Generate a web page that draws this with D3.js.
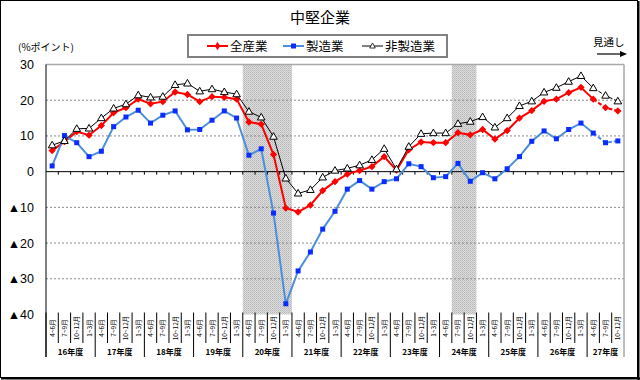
<!DOCTYPE html>
<html><head><meta charset="utf-8">
<script src="https://cdn.jsdelivr.net/npm/d3@7"></script>
<style>
html,body{margin:0;padding:0;background:#fff;}
text{font-family:"Liberation Sans","Noto Sans CJK JP",sans-serif;}
.jp{font-family:"Noto Sans CJK JP","Liberation Sans",sans-serif;}
</style></head>
<body>
<svg id="c" width="640" height="380"></svg>
<script>
const title = "中堅企業";
const fiscalYears = ["16年度","17年度","18年度","19年度","20年度","21年度","22年度","23年度","24年度","25年度","26年度","27年度"];
const quarters = ["4~6月","7~9月","10~12月","1~3月"];
const lastYearQuarters = 3;
const seriesNames = ["全産業","製造業","非製造業"];
const allIndustries = [5.9,8.4,11.2,10.2,12.9,16.5,17.9,20.3,19.0,19.6,22.3,21.6,19.6,21.0,20.8,20.3,13.9,13.3,4.8,-10.2,-11.3,-9.4,-5.3,-2.8,-0.7,0.3,1.4,4.2,0.4,6.1,8.3,8.1,8.1,10.9,10.3,11.8,9.1,11.5,15.0,17.1,19.7,20.3,22.1,23.6,20.3,17.9,17.0];
const manufacturing = [1.6,10.1,8.1,4.2,5.7,12.6,15.3,17.2,13.6,15.8,17.0,11.7,11.8,14.4,17.0,15.0,4.6,6.4,-11.6,-37.0,-27.8,-22.5,-16.1,-11.1,-4.9,-2.5,-4.9,-2.8,-2.0,2.2,1.4,-1.7,-1.4,2.3,-2.7,-0.3,-2.0,0.8,4.2,8.5,11.4,9.2,11.8,13.6,10.8,8.1,8.6];
const nonManufacturing = [7.4,8.6,12.0,12.1,15.0,17.7,18.9,21.4,20.8,21.0,24.3,24.7,22.5,23.1,22.3,21.7,16.8,15.2,9.8,-1.9,-6.1,-5.1,-1.6,0.3,0.9,1.8,3.3,6.4,0.7,7.0,10.6,10.8,10.8,13.4,14.0,15.3,12.4,15.0,18.4,19.7,22.2,23.5,25.2,26.8,23.4,21.3,19.7];
const forecastFrom = "27年度 4~6月";
const shadedPeriods = [["20年度 4~6月","20年度 1~3月"],["24年度 7~9月","24年度 10~12月"]];
const yTicks = [30,20,10,0,-10,-20,-30,-40];

// build categories
const categories = [];
fiscalYears.forEach((fy,yi)=>{
  const n = yi===fiscalYears.length-1 ? lastYearQuarters : 4;
  for(let q=0;q<n;q++) categories.push({key: fy+" "+quarters[q], fy, q: quarters[q]});
});
const keys = categories.map(d=>d.key);

const svg = d3.select("#c");
const L=46,R=624,T=64.5,B=314.5;
const x = d3.scaleBand().domain(keys).range([L,R]).padding(0);
const y = d3.scaleLinear().domain([-40,30]).range([B,T]);
const cx = k => x(k)+x.bandwidth()/2;

// frame
svg.append("rect").attr("x",0.5).attr("y",0.5).attr("width",637).attr("height",377).attr("fill","#fff").attr("stroke","#000");
svg.append("line").attr("x1",638.5).attr("x2",638.5).attr("y1",1).attr("y2",380).attr("stroke","#000").attr("stroke-width",2);
svg.append("line").attr("x1",1).attr("x2",640).attr("y1",378.5).attr("y2",378.5).attr("stroke","#000").attr("stroke-width",2);

// pattern
const defs = svg.append("defs");
const pat = defs.append("pattern").attr("id","dots").attr("width",2).attr("height",2).attr("patternUnits","userSpaceOnUse");
pat.append("rect").attr("width",2).attr("height",2).attr("fill","#dedede");
pat.append("rect").attr("width",1).attr("height",1).attr("fill","#b4b4b4");
pat.append("rect").attr("x",1).attr("y",1).attr("width",1).attr("height",1).attr("fill","#c4c4c4");

// shaded
svg.selectAll("rect.shade").data(shadedPeriods).enter().append("rect")
  .attr("x",d=>x(d[0])).attr("y",T).attr("width",d=>x(d[1])+x.bandwidth()-x(d[0])).attr("height",B-T)
  .attr("fill","url(#dots)");

// gridlines
svg.selectAll("line.grid").data(yTicks.filter(v=>v!==0 && v!==30 && v!==-40)).enter().append("line")
  .attr("x1",L).attr("x2",R).attr("y1",d=>y(d)).attr("y2",d=>y(d))
  .attr("stroke","#8a8a8a").attr("stroke-width",1).attr("stroke-dasharray","2,2");
// top & right border
svg.append("line").attr("x1",L).attr("x2",R).attr("y1",y(30)).attr("y2",y(30)).attr("stroke","#a8a8a8").attr("stroke-width",1.5);
svg.append("line").attr("x1",R).attr("x2",R).attr("y1",T).attr("y2",357).attr("stroke","#a8a8a8").attr("stroke-width",1.5);
// zero line
svg.append("line").attr("x1",L).attr("x2",R).attr("y1",y(0)).attr("y2",y(0)).attr("stroke","#000").attr("stroke-width",1);
svg.selectAll("line.zt").data(keys.slice(1)).enter().append("line")
  .attr("x1",d=>x(d)).attr("x2",d=>x(d)).attr("y1",y(0)).attr("y2",y(0)+3).attr("stroke","#000");

// y axis
const yAxis = d3.axisLeft(y).tickValues(yTicks).tickSize(0).tickPadding(12)
  .tickFormat(v=> v<0 ? "▲"+(-v) : String(v));
const ga = svg.append("g").attr("transform",`translate(${L},0)`).call(yAxis);
ga.select(".domain").remove();
ga.selectAll("text").attr("font-size",12.5).attr("fill","#000").attr("font-family","'Liberation Sans',sans-serif");
svg.append("line").attr("x1",L).attr("x2",L).attr("y1",T).attr("y2",357).attr("stroke","#000");

// x axis separators
svg.selectAll("line.qsep").data(categories).enter().append("line")
  .attr("x1",d=>x(d.key)).attr("x2",d=>x(d.key))
  .attr("y1",B-2).attr("y2",d=> d.q===quarters[0] ? 357 : 343)
  .attr("stroke","#000").attr("stroke-width",1);
svg.selectAll("text.ql").data(categories).enter().append("text")
  .attr("class","jp")
  .attr("transform",d=>`translate(${cx(d.key)+2.5},${328}) rotate(-90)`)
  .attr("text-anchor","middle").attr("font-size",6.5).text(d=>d.q);
svg.selectAll("text.yl").data(fiscalYears).enter().append("text")
  .attr("class","jp")
  .attr("x",fy=>{const ks=categories.filter(c=>c.fy===fy); return (x(ks[0].key)+x(ks[ks.length-1].key)+x.bandwidth())/2;})
  .attr("y",355).attr("text-anchor","middle").attr("font-size",8).attr("font-weight","bold").text(d=>d);

// series
const fi = keys.indexOf(forecastFrom);
const series = [
  {name:seriesNames[0], vals:allIndustries, line:"#ff0000", mark:"#ff0000", sym:"diamond"},
  {name:seriesNames[1], vals:manufacturing, line:"#4b8fdc", mark:"#0a2cff", sym:"square"},
  {name:seriesNames[2], vals:nonManufacturing, line:"#000000", mark:"#000", sym:"triangle"}
];
const lineGen = d3.line().x(d=>cx(d.k)).y(d=>y(d.v));
series.forEach(s=>{
  const pts = s.vals.map((v,i)=>({k:keys[i],v}));
  const w = s.sym==="triangle"?1:2;
  svg.append("path").attr("d",lineGen(pts.slice(0,fi+1))).attr("fill","none").attr("stroke",s.line).attr("stroke-width",w);
  svg.append("path").attr("d",lineGen(pts.slice(fi))).attr("fill","none").attr("stroke",s.line).attr("stroke-width",w).attr("stroke-dasharray","4,2");
  const g = svg.append("g");
  pts.forEach(p=>{
    const px=cx(p.k), py=y(p.v);
    if(s.sym==="diamond"){
      g.append("path").attr("d",d3.symbol(d3.symbolDiamond2? d3.symbolDiamond2 : d3.symbolDiamond,34)()).attr("transform",`translate(${px},${py})`).attr("fill",s.mark);
    } else if(s.sym==="square"){
      g.append("rect").attr("x",px-2.5).attr("y",py-2.5).attr("width",5).attr("height",5).attr("fill",s.mark);
    } else {
      g.append("path").attr("d",`M${px},${py-4}L${px+3.8},${py+2.6}L${px-3.8},${py+2.6}Z`).attr("fill","#fff").attr("stroke","#000").attr("stroke-width",1);
    }
  });
});

// title
svg.append("text").attr("class","jp").attr("x",320).attr("y",23).attr("text-anchor","middle").attr("font-size",15).text(title);
// legend
svg.append("rect").attr("x",188).attr("y",35).attr("width",259).attr("height",22).attr("fill","#fff").attr("stroke","#808080").attr("stroke-width",2);
const lg = [{x:207,s:series[0]},{x:283,s:series[1]},{x:362,s:series[2]}];
lg.forEach(o=>{
  const s=o.s, ly=46;
  svg.append("line").attr("x1",o.x).attr("x2",o.x+21).attr("y1",ly).attr("y2",ly).attr("stroke",s.line).attr("stroke-width",s.sym==="triangle"?1:2);
  const mx=o.x+10.5;
  if(s.sym==="diamond") svg.append("path").attr("d",d3.symbol(d3.symbolDiamond,22)()).attr("transform",`translate(${mx},${ly})`).attr("fill",s.mark);
  else if(s.sym==="square") svg.append("rect").attr("x",mx-2.5).attr("y",ly-2.5).attr("width",5).attr("height",5).attr("fill",s.mark);
  else svg.append("path").attr("d",`M${mx},${ly-3}L${mx+2.8},${ly+2}L${mx-2.8},${ly+2}Z`).attr("fill","#fff").attr("stroke","#000").attr("stroke-width",0.8);
  svg.append("text").attr("class","jp").attr("x",o.x+23).attr("y",ly+4.5).attr("font-size",12.5).text(s.name);
});
// unit label
svg.append("text").attr("class","jp").attr("x",18).attr("y",51).attr("font-size",10).text("(%ポイント)");
// forecast label
svg.append("text").attr("class","jp").attr("x",593).attr("y",46).attr("font-size",10.5).text("見通し");
svg.append("line").attr("x1",597).attr("x2",623).attr("y1",54).attr("y2",54).attr("stroke","#000").attr("stroke-width",1.2);
svg.append("path").attr("d","M627,54L620,51L620,57Z").attr("fill","#000");
</script>
</body></html>
